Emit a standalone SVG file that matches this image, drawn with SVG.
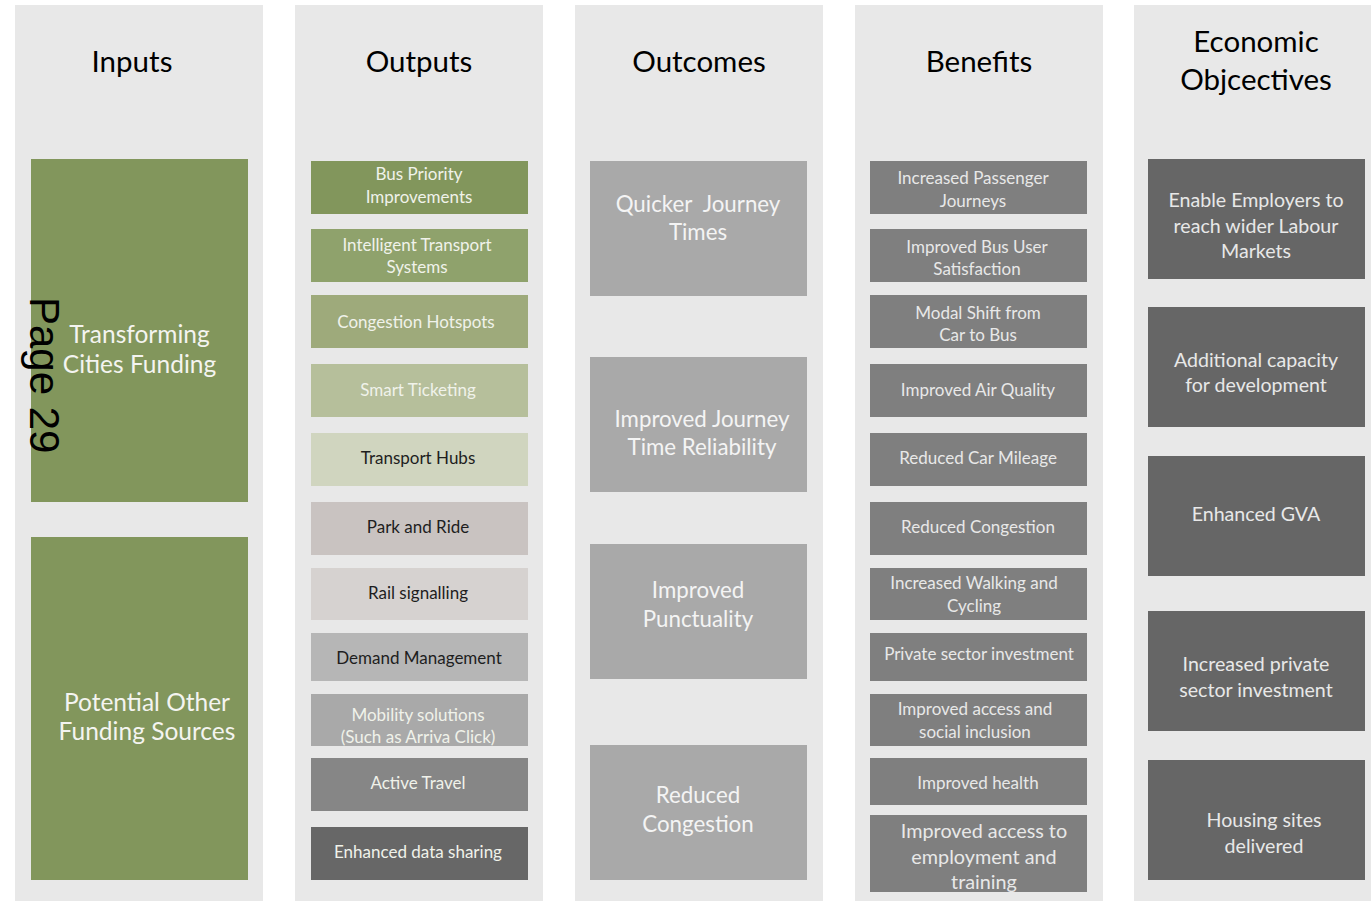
<svg xmlns="http://www.w3.org/2000/svg" width="1371" height="901" viewBox="0 0 1371 901">
<style>
text{font-family:Lato,"Open Sans","Liberation Sans",sans-serif;text-anchor:middle}
.col{fill:#e8e8e8}
.hd{font-size:29.5px;fill:#000}
.in{font-size:24.5px;fill:#f4f4f0}
.o{font-size:17px}
.w{fill:#f0f2ea}
.d{fill:#1e1e1e}
.oc{font-size:22.3px;fill:#f4f4f4}
.b{font-size:17px;fill:#e8e8e8}
.b2{font-size:19.8px;fill:#e8e8e8}
.e{font-size:19.6px;fill:#e8e8e8}
</style>
<defs>
<clipPath id="cMob"><rect x="311" y="694" width="217" height="52"/></clipPath>
<clipPath id="cEmp"><rect x="870" y="815" width="217" height="77"/></clipPath>
</defs>
<rect width="1371" height="901" fill="#ffffff"/>
<g id="columns">
<rect class="col" x="15" y="5" width="248" height="896"/>
<rect class="col" x="295" y="5" width="248" height="896"/>
<rect class="col" x="575" y="5" width="248" height="896"/>
<rect class="col" x="855" y="5" width="248" height="896"/>
<rect class="col" x="1134" y="5" width="237" height="896"/>
<text class="hd" x="132" y="72">Inputs</text>
<text class="hd" x="419" y="72">Outputs</text>
<text class="hd" x="699" y="72">Outcomes</text>
<text class="hd" x="979" y="72">Benefits</text>
<text class="hd" x="1256" y="52">Economic</text>
<text class="hd" x="1256" y="90">Objcectives</text>
</g>
<g id="connectors"/>
<g id="in-tcf"><rect x="31" y="159" width="217" height="343" fill="#82965c"/><text class="in" x="139.5" y="343">Transforming</text><text class="in" x="139.5" y="373">Cities Funding</text></g>
<g id="in-other"><rect x="31" y="537" width="217" height="343" fill="#82965c"/><text class="in" x="147" y="711">Potential Other</text><text class="in" x="147" y="740">Funding Sources</text></g>
<g id="page-label"><text x="0" y="0" transform="translate(30,297) rotate(90)" style="font-family:'Liberation Sans',Arial,sans-serif;font-size:42px;text-anchor:start;fill:#000">Page 29</text></g>

<g id="out-bus"><rect x="311" y="161" width="217" height="53" fill="#82965c"/><text class="o w" x="419" y="180">Bus Priority</text><text class="o w" x="419" y="203">Improvements</text></g>
<g id="out-its"><rect x="311" y="229" width="217" height="53" fill="#8fa26c"/><text class="o w" x="417" y="251">Intelligent Transport</text><text class="o w" x="417" y="273">Systems</text></g>
<g id="out-hotspots"><rect x="311" y="295" width="217" height="53" fill="#9eaa7b"/><text class="o w" x="416" y="328">Congestion Hotspots</text></g>
<g id="out-ticketing"><rect x="311" y="364" width="217" height="53" fill="#b6bf9b"/><text class="o w" x="418" y="396">Smart Ticketing</text></g>
<g id="out-hubs"><rect x="311" y="433" width="217" height="53" fill="#d0d5bf"/><text class="o d" x="418" y="464">Transport Hubs</text></g>
<g id="out-pnr"><rect x="311" y="502" width="217" height="53" fill="#c9c3c1"/><text class="o d" x="418" y="533">Park and Ride</text></g>
<g id="out-rail"><rect x="311" y="568" width="217" height="52" fill="#d6d2d0"/><text class="o d" x="418" y="599">Rail signalling</text></g>
<g id="out-demand"><rect x="311" y="633" width="217" height="48" fill="#b6b6b6"/><text class="o d" x="419" y="664">Demand Management</text></g>
<g id="out-mobility"><rect x="311" y="694" width="217" height="52" fill="#a9a9a9"/><g clip-path="url(#cMob)"><text class="o w" x="418" y="721">Mobility solutions</text><text class="o w" x="418" y="743">(Such as Arriva Click)</text></g></g>
<g id="out-active"><rect x="311" y="758" width="217" height="53" fill="#868686"/><text class="o w" x="418" y="789">Active Travel</text></g>
<g id="out-data"><rect x="311" y="827" width="217" height="53" fill="#676767"/><text class="o w" x="418" y="858">Enhanced data sharing</text></g>

<g id="oc-quicker"><rect x="590" y="161" width="217" height="135" fill="#a9a9a9"/><text class="oc" x="698" y="212" xml:space="preserve">Quicker  Journey</text><text class="oc" x="698" y="240">Times</text></g>
<g id="oc-reliability"><rect x="590" y="357" width="217" height="135" fill="#a9a9a9"/><text class="oc" x="702" y="427">Improved Journey</text><text class="oc" x="702" y="455">Time Reliability</text></g>
<g id="oc-punctuality"><rect x="590" y="544" width="217" height="135" fill="#a9a9a9"/><text class="oc" x="698" y="598">Improved</text><text class="oc" x="698" y="627">Punctuality</text></g>
<g id="oc-congestion"><rect x="590" y="745" width="217" height="135" fill="#a9a9a9"/><text class="oc" x="698" y="803">Reduced</text><text class="oc" x="698" y="832">Congestion</text></g>

<g id="b-passenger"><rect x="870" y="161" width="217" height="53" fill="#7f7f7f"/><text class="b" x="973" y="184">Increased Passenger</text><text class="b" x="973" y="207">Journeys</text></g>
<g id="b-satisfaction"><rect x="870" y="229" width="217" height="53" fill="#7f7f7f"/><text class="b" x="977" y="253">Improved Bus User</text><text class="b" x="977" y="275">Satisfaction</text></g>
<g id="b-modal"><rect x="870" y="295" width="217" height="53" fill="#7f7f7f"/><text class="b" x="978" y="319">Modal Shift from</text><text class="b" x="978" y="341">Car to Bus</text></g>
<g id="b-air"><rect x="870" y="364" width="217" height="53" fill="#7f7f7f"/><text class="b" x="978" y="396">Improved Air Quality</text></g>
<g id="b-mileage"><rect x="870" y="433" width="217" height="53" fill="#7f7f7f"/><text class="b" x="978" y="464">Reduced Car Mileage</text></g>
<g id="b-congestion"><rect x="870" y="502" width="217" height="53" fill="#7f7f7f"/><text class="b" x="978" y="533">Reduced Congestion</text></g>
<g id="b-walking"><rect x="870" y="568" width="217" height="52" fill="#7f7f7f"/><text class="b" x="974" y="589">Increased Walking and</text><text class="b" x="974" y="612">Cycling</text></g>
<g id="b-private"><rect x="870" y="633" width="217" height="48" fill="#7f7f7f"/><text class="b" x="979" y="660">Private sector investment</text></g>
<g id="b-access"><rect x="870" y="694" width="217" height="52" fill="#7f7f7f"/><text class="b" x="975" y="715">Improved access and</text><text class="b" x="975" y="738">social inclusion</text></g>
<g id="b-health"><rect x="870" y="758" width="217" height="47" fill="#7f7f7f"/><text class="b" x="978" y="789">Improved health</text></g>
<g id="b-employment"><rect x="870" y="815" width="217" height="77" fill="#7f7f7f"/><g clip-path="url(#cEmp)"><text class="b2" x="984" y="838">Improved access to</text><text class="b2" x="984" y="864">employment and</text><text class="b2" x="984" y="889">training</text></g></g>

<g id="e-labour"><rect x="1148" y="159" width="217" height="120" fill="#666666"/><text class="e" x="1256" y="207">Enable Employers to</text><text class="e" x="1256" y="233">reach wider Labour</text><text class="e" x="1256" y="258">Markets</text></g>
<g id="e-capacity"><rect x="1148" y="307" width="217" height="120" fill="#666666"/><text class="e" x="1256" y="367">Additional capacity</text><text class="e" x="1256" y="392">for development</text></g>
<g id="e-gva"><rect x="1148" y="456" width="217" height="120" fill="#666666"/><text class="e" x="1256" y="521">Enhanced GVA</text></g>
<g id="e-private"><rect x="1148" y="611" width="217" height="120" fill="#666666"/><text class="e" x="1256" y="671">Increased private</text><text class="e" x="1256" y="697">sector investment</text></g>
<g id="e-housing"><rect x="1148" y="760" width="217" height="120" fill="#666666"/><text class="e" x="1264" y="827">Housing sites</text><text class="e" x="1264" y="853">delivered</text></g>
</svg>
